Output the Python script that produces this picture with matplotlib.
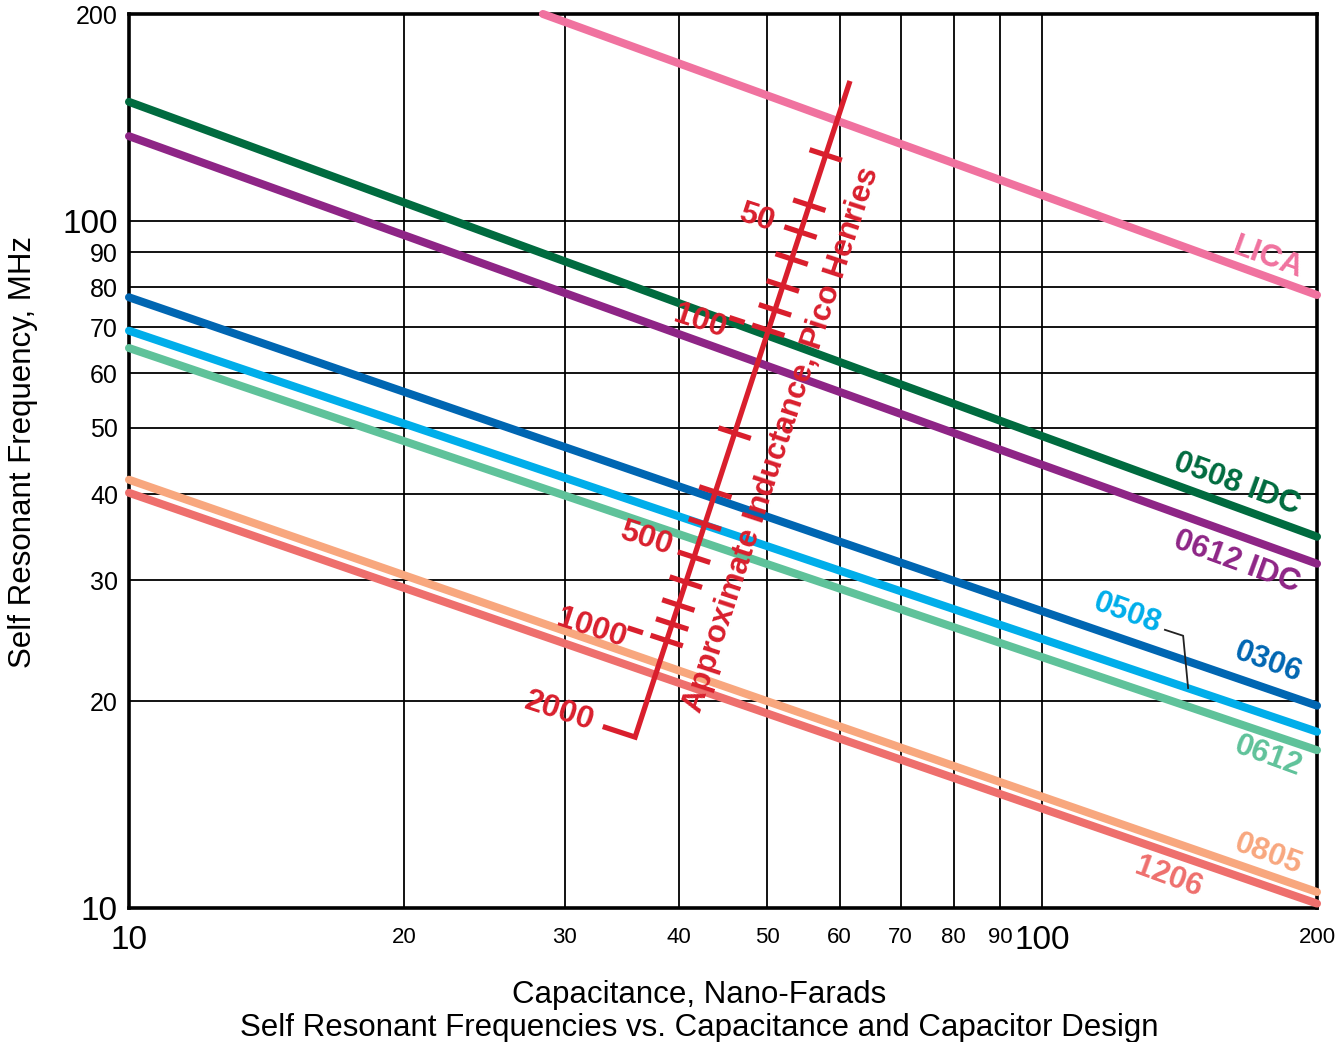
"""
Self resonant frequency vs capacitance for several capacitor designs,
with an approximate-inductance nomograph scale drawn across the grid.
Writes out.png.
"""
import matplotlib
matplotlib.use("Agg")  # headless
import matplotlib.pyplot as plt
import numpy as np

plt.rcParams["font.family"] = ["Liberation Sans", "DejaVu Sans"]

# ── data ───────────────────────────────────────────────────────────────────────

SERIES = ["LICA", "0508 IDC", "0612 IDC", "0306", "0508", "0612", "0805", "1206"]
COLORS = ["#F0729F", "#006B3F", "#8E2586", "#0066B2",
          "#00AEEA", "#5FC29A", "#F8A77E", "#EE6F6D"]

# each design is a straight line on log-log axes: (cap, freq) at both ends
cap_start_nf = [28.4, 10, 10, 10, 10, 10, 10, 10]
freq_start_mhz = [200, 149.0, 132.8, 77.4, 69.2, 65.3, 42.0, 40.2]
cap_end_nf = [200, 200, 200, 200, 200, 200, 200, 200]
freq_end_mhz = [78.0, 34.7, 31.7, 19.7, 18.05, 16.97, 10.55, 10.15]

# inductance scale: straight line from 2000 pH (bottom) to the top
scale_cap_nf = [35.83, 61.6]
scale_freq_mhz = [17.73, 159.8]
# tick values (pH) and the frequency at which each crosses the scale line
scale_ticks_ph = [1000, 900, 800, 700, 600, 500, 400, 300,
                  100, 90, 80, 70, 60, 50, 40]
scale_ticks_mhz = [24.5, 25.9, 27.6, 29.8, 32.4, 36.2, 40.3, 49.1,
                   69.3, 74.2, 80.4, 88.0, 96.3, 105.4, 124.7]

X_TICKS = [10, 20, 30, 40, 50, 60, 70, 80, 90, 100, 200]
Y_TICKS = [10, 20, 30, 40, 50, 60, 70, 80, 90, 100, 200]
BIG_TICKS = [10, 100]

RED = "#D91F2D"

# ── layout / annotation positions (data coords) ───────────────────────────────

SERIES_LABEL_POS = {
    "LICA": (176.8, 88.3),
    "0508 IDC": (163.5, 41.4),
    "0612 IDC": (163.5, 31.9),
    "0306": (176.8, 22.8),
    "0508": (123.9, 26.8),
    "0612": (176.8, 16.6),
    "0805": (176.8, 11.98),
    "1206": (137.4, 11.09),
}
SCALE_LABEL_POS = {
    "2000": (29.6, 19.3),
    "1000": (32.1, 25.5),
    "500": (36.8, 34.5),
    "100": (42.2, 71.3),
    "50": (48.6, 101.0),
}

# ── figure ─────────────────────────────────────────────────────────────────────

W, H = 1335, 1042
fig = plt.figure(figsize=(W / 100, H / 100), dpi=100)
ax = fig.add_axes([129 / W, 1 - 908 / H, (1317 - 129) / W, (908 - 14) / H])
ax.set_xscale("log")
ax.set_yscale("log")
ax.set_xlim(10, 200)
ax.set_ylim(10, 200)
ax.minorticks_off()

ax.set_xticks(X_TICKS)
ax.set_xticklabels([str(v) for v in X_TICKS])
ax.set_yticks(Y_TICKS)
ax.set_yticklabels([str(v) for v in Y_TICKS])
ax.tick_params(length=0)
for v, lab, tick in zip(X_TICKS, ax.get_xticklabels(), ax.xaxis.get_major_ticks()):
    big = v in BIG_TICKS
    lab.set_fontsize(24 if big else 16)
    tick.set_pad(12 if big else 13.5)
for v, lab, tick in zip(Y_TICKS, ax.get_yticklabels(), ax.yaxis.get_major_ticks()):
    big = v in BIG_TICKS
    lab.set_fontsize(24 if big else 18)
    tick.set_pad(8)

ax.grid(True, color="black", linewidth=1.3)
ax.set_axisbelow(True)
for sp in ax.spines.values():
    sp.set_linewidth(2.6)

# design lines
for name, color, c0, f0, c1, f1 in zip(SERIES, COLORS, cap_start_nf, freq_start_mhz,
                                       cap_end_nf, freq_end_mhz):
    ax.plot([c0, c1], [f0, f1], color=color, linewidth=5.8,
            solid_capstyle="round", clip_on=False, zorder=3)

# rotation of the design lines on screen
p_a = ax.transData.transform((cap_start_nf[1], freq_start_mhz[1]))
p_b = ax.transData.transform((cap_end_nf[1], freq_end_mhz[1]))
line_angle = np.degrees(np.arctan2(p_b[1] - p_a[1], p_b[0] - p_a[0]))

for name, color in zip(SERIES, COLORS):
    x, y = SERIES_LABEL_POS[name]
    ax.text(x, y, name, color=color, fontsize=22.5, fontweight="bold",
            rotation=line_angle, rotation_mode="anchor",
            ha="center", va="center", zorder=5)

# 0508 leader
ax.plot([136.3, 142.7, 144.5], [25.4, 24.9, 20.9], color="#222222",
        linewidth=1.3, zorder=4)

# ── inductance scale ──────────────────────────────────────────────────────────

lc0, lc1 = np.log10(scale_cap_nf)
lf0, lf1 = np.log10(scale_freq_mhz)


def scale_cap(f):
    t = (np.log10(f) - lf0) / (lf1 - lf0)
    return 10 ** (lc0 + t * (lc1 - lc0))


to_px = ax.transData.transform
to_data = ax.transData.inverted().transform
q0 = to_px((scale_cap_nf[0], scale_freq_mhz[0]))
q1 = to_px((scale_cap_nf[1], scale_freq_mhz[1]))
d = (q1 - q0) / np.hypot(*(q1 - q0))
n = np.array([d[1], -d[0]])  # perpendicular, pointing right/down
scale_angle = np.degrees(np.arctan2(d[1], d[0]))

# main line with the 2000 leader at its foot
foot = to_data(q0 - 34 * n)
ax.plot([foot[0], scale_cap_nf[0], scale_cap_nf[1]],
        [foot[1], scale_freq_mhz[0], scale_freq_mhz[1]],
        color=RED, linewidth=3.8, solid_joinstyle="miter",
        solid_capstyle="butt", clip_on=False, zorder=6)

for ph, f in zip(scale_ticks_ph, scale_ticks_mhz):
    p = to_px((scale_cap(f), f))
    a, b = to_data(p - 17 * n), to_data(p + 17 * n)
    ax.plot([a[0], b[0]], [a[1], b[1]], color=RED, linewidth=3.8,
            solid_capstyle="butt", zorder=6)
    if ph in (1000, 100):
        a, b = to_data(p - 41 * n), to_data(p - 25 * n)
        ax.plot([a[0], b[0]], [a[1], b[1]], color=RED, linewidth=3.8,
                solid_capstyle="butt", zorder=6)

for txt, (x, y) in SCALE_LABEL_POS.items():
    ax.text(x, y, txt, color=RED, fontsize=23, fontweight="bold",
            rotation=scale_angle - 90, rotation_mode="anchor",
            ha="center", va="center", zorder=7)

ax.text(51.9, 48.0, "Approximate Inductance, Pico Henries", color=RED,
        fontsize=22.5, fontweight="bold", rotation=scale_angle,
        rotation_mode="anchor", ha="center", va="center", zorder=7)

# ── axis titles ───────────────────────────────────────────────────────────────

ax.set_xlabel("Capacitance, Nano-Farads", fontsize=22.5)
ax.xaxis.set_label_coords(0.48, -0.081)
ax.set_ylabel("Self Resonant Frequency, MHz", fontsize=22.5)
ax.yaxis.set_label_coords(-0.077, 0.51)
fig.text(699 / W, 1 - 1028 / H,
         "Self Resonant Frequencies vs. Capacitance and Capacitor Design",
         fontsize=22.5, ha="center", va="center")

fig.savefig("out.png", dpi=100)
plt.close(fig)
